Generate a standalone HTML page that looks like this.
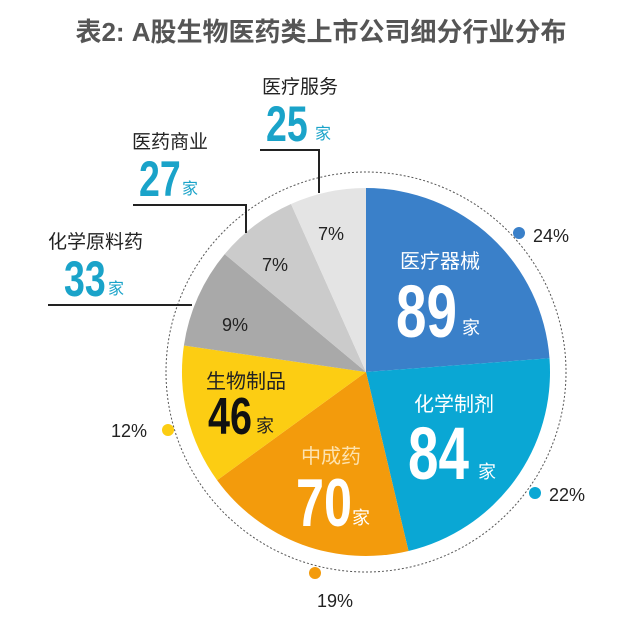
<!DOCTYPE html>
<html><head><meta charset="utf-8"><style>
html,body{margin:0;padding:0;background:#fff;}
svg{display:block;}
text{font-family:"Liberation Sans","Noto Sans CJK SC",sans-serif;}
.n{font-family:"Liberation Sans Narrow","Liberation Sans",sans-serif;font-weight:bold;}
</style></head><body>
<svg width="640" height="620" viewBox="0 0 640 620" xmlns="http://www.w3.org/2000/svg">
<text x="321" y="41" text-anchor="middle" font-size="26" font-weight="bold" fill="#555">表2: A股生物医药类上市公司细分行业分布</text>
<circle cx="366" cy="372" r="200" fill="none" stroke="#555" stroke-width="1" stroke-dasharray="2,2"/>
<g transform="translate(366,372)">
<path d="M0,0 L0,-184 A184,184 0 0 1 183.5,-13.7 Z" fill="#3a80c9"/>
<path d="M0,0 L183.5,-13.7 A184,184 0 0 1 42.5,179 Z" fill="#0aa7d4"/>
<path d="M0,0 L42.5,179 A184,184 0 0 1 -148.9,108.2 Z" fill="#f39b0c"/>
<path d="M0,0 L-148.9,108.2 A184,184 0 0 1 -182.1,-26.5 Z" fill="#fccd13"/>
<path d="M0,0 L-182.1,-26.5 A184,184 0 0 1 -141.3,-117.9 Z" fill="#a9a9a9"/>
<path d="M0,0 L-141.3,-117.9 A184,184 0 0 1 -75.0,-168.0 Z" fill="#cbcbcb"/>
<path d="M0,0 L-75.0,-168.0 A184,184 0 0 1 0,-184 Z" fill="#e4e4e4"/>
</g>
<circle cx="519" cy="233" r="6" fill="#3a80c9"/>
<circle cx="535" cy="493" r="6" fill="#0aa7d4"/>
<circle cx="315" cy="573" r="6" fill="#f39b0c"/>
<circle cx="168" cy="430" r="6" fill="#fccd13"/>
<text x="533" y="242" font-size="18" fill="#222">24%</text>
<text x="549" y="501" font-size="18" fill="#222">22%</text>
<text x="317" y="607" font-size="18" fill="#222">19%</text>
<text x="111" y="437" font-size="18" fill="#222">12%</text>
<g stroke="#222" stroke-width="2" fill="none">
<polyline points="260,150 319,150 319,193"/>
<polyline points="133,205 246,205 246,233"/>
<polyline points="48,305 192,305"/>
</g>
<text x="262" y="93" font-size="19" fill="#222">医疗服务</text>
<text x="266" y="141" font-size="50" class="n" fill="#1aa3c9" transform="translate(266,0) scale(0.75,1) translate(-266,0)">25</text>
<text x="315" y="139" font-size="16" fill="#1aa3c9">家</text>
<text x="132" y="148" font-size="19" fill="#222">医药商业</text>
<text x="139" y="196" font-size="50" class="n" fill="#1aa3c9" transform="translate(139,0) scale(0.75,1) translate(-139,0)">27</text>
<text x="182" y="194" font-size="16" fill="#1aa3c9">家</text>
<text x="48" y="248" font-size="19" fill="#222">化学原料药</text>
<text x="64" y="296" font-size="50" class="n" fill="#1aa3c9" transform="translate(64,0) scale(0.75,1) translate(-64,0)">33</text>
<text x="108" y="294" font-size="16" fill="#1aa3c9">家</text>
<text x="318" y="240" font-size="18" fill="#222">7%</text>
<text x="262" y="271" font-size="18" fill="#222">7%</text>
<text x="222" y="331" font-size="18" fill="#222">9%</text>
<text x="400" y="268" font-size="20" fill="#fff">医疗器械</text>
<text x="396" y="337" font-size="74" class="n" fill="#fff" transform="translate(396,0) scale(0.74,1) translate(-396,0)">89</text>
<text x="462" y="334" font-size="18" fill="#fff">家</text>
<text x="414" y="411" font-size="20" fill="#fff">化学制剂</text>
<text x="408" y="479" font-size="74" class="n" fill="#fff" transform="translate(408,0) scale(0.74,1) translate(-408,0)">84</text>
<text x="478" y="478" font-size="18" fill="#fff">家</text>
<text x="301" y="463" font-size="20" fill="#fde3b0">中成药</text>
<text x="296" y="526" font-size="68" class="n" fill="#fff" transform="translate(296,0) scale(0.74,1) translate(-296,0)">70</text>
<text x="352" y="524" font-size="18" fill="#fff">家</text>
<text x="206" y="388" font-size="20" fill="#222">生物制品</text>
<text x="208" y="434" font-size="52" class="n" fill="#111" transform="translate(208,0) scale(0.76,1) translate(-208,0)">46</text>
<text x="256" y="432" font-size="18" fill="#222">家</text>
</svg>
</body></html>
